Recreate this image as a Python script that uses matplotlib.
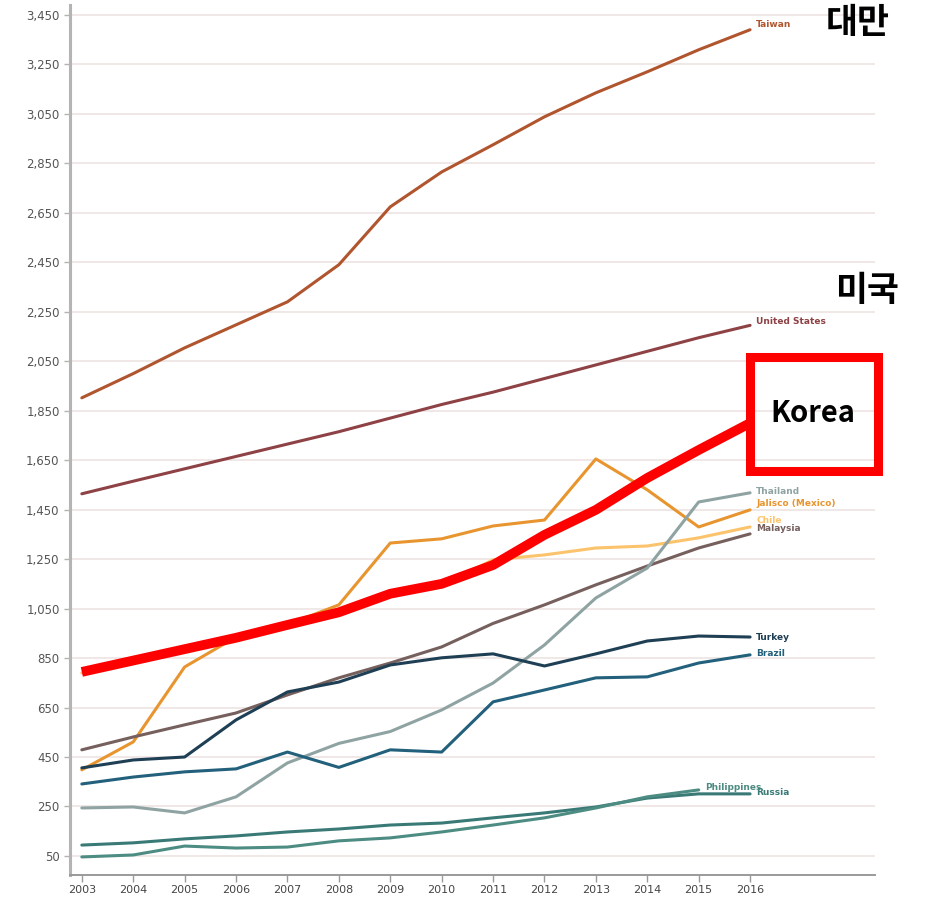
import matplotlib
matplotlib.use("Agg")
import matplotlib.pyplot as plt
from matplotlib.patches import Rectangle
from matplotlib.ticker import FuncFormatter

YEARS = list(range(2003, 2017))

TAIWAN = [1902, 2000, 2104, 2197, 2290, 2440, 2674, 2815, 2925, 3038, 3135, 3220, 3309, 3390]
UNITED_STATES = [1514, 1565, 1615, 1665, 1715, 1765, 1820, 1875, 1925, 1980, 2035, 2090, 2145, 2195]
KOREA = [794, 840, 886, 932, 984, 1035, 1110, 1150, 1226, 1348, 1449, 1578, 1691, 1800]
JALISCO = [398, 511, 814, 935, 985, 1065, 1315, 1332, 1384, 1408, 1655, 1530, 1380, 1449]
CHILE = [790, 835, 880, 930, 980, 1030, 1105, 1145, 1247, 1267, 1295, 1303, 1336, 1380]
MALAYSIA = [479, 531, 580, 628, 701, 770, 830, 895, 990, 1065, 1146, 1222, 1295, 1352]
THAILAND = [244, 248, 224, 289, 426, 505, 553, 640, 749, 903, 1093, 1214, 1481, 1518]
TURKEY = [406, 438, 450, 600, 713, 753, 822, 851, 867, 818, 867, 919, 939, 935]
BRAZIL = [341, 369, 390, 402, 470, 408, 479, 470, 673, 721, 770, 774, 830, 863]
RUSSIA = [94, 103, 119, 131, 147, 159, 175, 183, 204, 224, 248, 284, 301, 301]
PHILIPPINES = [46, 54, 90, 82, 86, 111, 123, 147, 175, 204, 244, 289, 317]

Y_TICKS = list(range(50, 3451, 200))

# name, values, colour, line width, label offset (px)
SERIES = [
    ("Taiwan", TAIWAN, "#b0552e", 2.2, (6, 5)),
    ("United States", UNITED_STATES, "#8e4245", 2.2, (6, 4)),
    ("Chile", CHILE, "#fcc36d", 2.2, (6, 6)),
    ("Jalisco (Mexico)", JALISCO, "#e8952f", 2.2, (6, 6)),
    ("Malaysia", MALAYSIA, "#76605e", 2.2, (6, 5)),
    ("Thailand", THAILAND, "#8fa3a3", 2.2, (6, 1)),
    ("Turkey", TURKEY, "#1f3f55", 2.2, (6, 0)),
    ("Brazil", BRAZIL, "#22607c", 2.2, (6, 1)),
    ("Russia", RUSSIA, "#3a7a76", 2.2, (6, 1)),
    ("Philippines", PHILIPPINES, "#4d8c82", 2.2, (6, 2)),
]

fig = plt.figure(figsize=(9.25, 9.02), dpi=100)
ax = fig.add_axes([70 / 925, 1 - 875 / 902, 805 / 925, 870 / 902])

for name, values, color, lw, off in SERIES:
    xs = YEARS[:len(values)]
    ax.plot(xs, values, color=color, lw=lw, solid_capstyle="round", zorder=3)
    ax.annotate(name, (xs[-1], values[-1]), xytext=off, textcoords="offset pixels",
                color=color, fontsize=6.5, fontweight="bold", va="center", ha="left",
                zorder=4)

ax.plot(YEARS, KOREA, color="#ff0000", lw=7, solid_capstyle="butt", zorder=5)

ax.set_xlim(2002.77, 2018.43)
ax.set_ylim(-27, 3490)
ax.set_xticks(YEARS)
ax.set_yticks(Y_TICKS)
ax.yaxis.set_major_formatter(FuncFormatter(lambda v, p: f"{int(v):,}"))
ax.grid(axis="y", color="#eee6e5", lw=1.3, zorder=0)
ax.set_axisbelow(True)

for side in ["top", "right"]:
    ax.spines[side].set_visible(False)
ax.spines["left"].set_color("#b4b4b4")
ax.spines["left"].set_linewidth(2.2)
ax.spines["bottom"].set_color("#9a9a9a")
ax.spines["bottom"].set_linewidth(1.4)
ax.tick_params(axis="y", colors="#b4b4b4", labelcolor="#555555", labelsize=8.5,
               length=4, width=1)
ax.tick_params(axis="x", colors="#9a9a9a", labelcolor="#444444", labelsize=8,
               length=5, width=1, pad=2)
for lab in ax.get_xticklabels() + ax.get_yticklabels():
    lab.set_family(["Liberation Sans Narrow", "DejaVu Sans"])

# red highlight box around Korea
fig.patches.append(Rectangle((749.5 / 925, 1 - 470.5 / 902), 128 / 925, 114 / 902,
                             transform=fig.transFigure, fill=False,
                             edgecolor="#ff0000", lw=6.5, zorder=10))
fig.text(813 / 925, 1 - 413 / 902, "Korea", fontsize=21, fontweight="bold",
         family=["Noto Sans CJK KR", "DejaVu Sans"], ha="center", va="center")
fig.text(858 / 925, 1 - 22 / 902, "대만", fontsize=25, fontweight="bold",
         family=["Noto Sans CJK KR", "DejaVu Sans"], ha="center", va="center")
fig.text(867 / 925, 1 - 290 / 902, "미국", fontsize=25, fontweight="bold",
         family=["Noto Sans CJK KR", "DejaVu Sans"], ha="center", va="center")

fig.savefig("out.png", dpi=100, facecolor="white")
